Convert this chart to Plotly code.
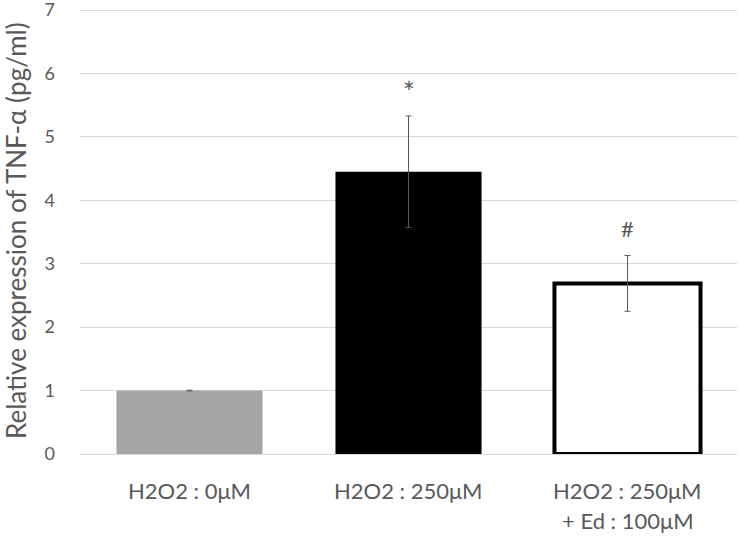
import plotly.graph_objects as go

categories = ["H2O2 : 0μM", "H2O2 : 250μM", "H2O2 : 250μM\n+ Ed : 100μM"]
values = [1.0, 4.45, 2.69]
errors = [0.005, 0.88, 0.44]
fill_colors = ["#a6a6a6", "#000000", "#ffffff"]
line_widths = [0, 0, 4]
sig_marks = ["", "*", "#"]
sig_y = [None, 5.70, 3.55]
sig_size = [0, 28, 22]
y_ticks = [0, 1, 2, 3, 4, 5, 6, 7]
y_title = "Relative expression of TNF-α (pg/ml)"

FONT = "Lato, 'Open Sans', sans-serif"
GRAY = "#595959"

L, R, T, B, W, H = 80, 2, 8, 83, 739, 537
plot_w = W - L - R

x_idx = list(range(len(categories)))

fig = go.Figure()
fig.add_trace(go.Bar(
    x=x_idx, y=values, width=0.667,
    marker=dict(color=fill_colors, line=dict(color="#000000", width=line_widths)),
    error_y=dict(type="data", array=errors, visible=True, color=GRAY, thickness=1, width=3),
    showlegend=False,
))

annotations = []
for i, (m, yy, sz) in enumerate(zip(sig_marks, sig_y, sig_size)):
    if m:
        annotations.append(dict(x=i, y=yy, xref="x", yref="y", text=m, showarrow=False,
                                font=dict(family=FONT, size=sz, color=GRAY)))
for i, cat in enumerate(categories):
    for j, line in enumerate(cat.split("\n")):
        annotations.append(dict(x=i, y=0, xref="x", yref="paper", text=line, showarrow=False,
                                yanchor="middle", yshift=-36 - 30 * j,
                                font=dict(family=FONT, size=22, color=GRAY)))
annotations.append(dict(x=(16 - L) / plot_w, y=0.5, xref="paper", yref="paper", text=y_title,
                        textangle=-90, showarrow=False, xanchor="center", yanchor="middle",
                        font=dict(family=FONT, size=26, color=GRAY)))

fig.update_layout(
    width=W, height=H,
    margin=dict(l=L, r=R, t=T, b=B, autoexpand=False),
    paper_bgcolor="white", plot_bgcolor="white",
    font=dict(family=FONT, color=GRAY),
    annotations=annotations,
    xaxis=dict(range=[-0.5, 2.5], tickvals=x_idx, showticklabels=False, showgrid=False,
               zeroline=False, showline=False, fixedrange=True, automargin=False),
    yaxis=dict(range=[0, 7.0315], tickvals=y_ticks, showgrid=True, gridcolor="#d9d9d9", gridwidth=1,
               zeroline=True, zerolinecolor="#d9d9d9", zerolinewidth=1, showline=False,
               tickfont=dict(family=FONT, size=18, color=GRAY), ticklabelstandoff=24,
               ticklabeloverflow="allow", automargin=False),
)

fig.write_html("out.html", config={"displayModeBar": False},
               post_script="document.body.style.margin='0px';")
